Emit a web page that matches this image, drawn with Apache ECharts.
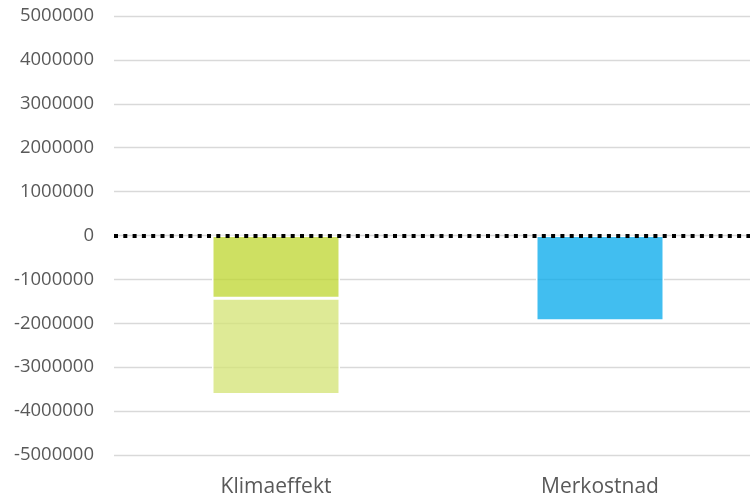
<!DOCTYPE html>
<html>
<head>
<meta charset="utf-8">
<script src="https://cdn.jsdelivr.net/npm/echarts@6/dist/echarts.min.js"></script>
<style>
  html, body { margin: 0; padding: 0; background: #fff; overflow: hidden; width: 750px; height: 498px; }
  /* the plot area runs a little past the right edge of the page */
  #chart { width: 762px; height: 498px; }
</style>
</head>
<body>
<div id="chart"></div>
<script>
// Categories along the horizontal axis
const categories = ['Klimaeffekt', 'Merkostnad'];

// Climate effect split into two stacked parts; extra cost as a single bar
const klimaDel1 = [-1430000, '-'];
const klimaDel2 = [-2190000, '-'];
const merkostnad = ['-', -1940000];

// Value axis range
const yMin = -5000000;
const yMax = 5000000;
const yStep = 1000000;

const textColor = '#595959';

const chart = echarts.init(document.getElementById('chart'), null, { renderer: 'canvas' });

chart.setOption({
  animation: false,
  backgroundColor: '#ffffff',
  grid: { left: 114, top: 16, right: 0, bottom: 43, containLabel: false },
  xAxis: {
    type: 'category',
    data: categories,
    axisLine: { show: false, onZero: false },
    axisTick: { show: false },
    axisLabel: { margin: 22, fontFamily: 'Open Sans', fontSize: 21, color: textColor },
    splitLine: { show: false }
  },
  yAxis: {
    type: 'value',
    min: yMin,
    max: yMax,
    interval: yStep,
    axisLine: { show: false },
    axisTick: { show: false },
    axisLabel: {
      margin: 20,
      fontFamily: 'Open Sans',
      fontSize: 18.5,
      color: textColor,
      formatter: function (v) { return String(v); }
    },
    splitLine: { show: true, lineStyle: { color: '#d9d9d9', width: 1.3 } }
  },
  series: [
    {
      name: 'Klimaeffekt del 1',
      type: 'bar',
      stack: 'sum',
      barWidth: 128,
      data: klimaDel1,
      itemStyle: { color: 'rgba(190,214,46,0.75)', borderColor: '#ffffff', borderWidth: 1.5 },
      markLine: {
        silent: true,
        symbol: 'none',
        label: { show: false },
        z: 10,
        lineStyle: { color: '#000000', width: 4, type: [4, 5.3], opacity: 1 },
        data: [{ yAxis: 0 }]
      }
    },
    {
      name: 'Klimaeffekt del 2',
      type: 'bar',
      stack: 'sum',
      barWidth: 128,
      data: klimaDel2,
      itemStyle: { color: 'rgba(211,227,115,0.75)', borderColor: '#ffffff', borderWidth: 1.5 }
    },
    {
      name: 'Merkostnad',
      type: 'bar',
      stack: 'sum',
      barWidth: 128,
      data: merkostnad,
      itemStyle: { color: 'rgba(2,168,235,0.75)', borderColor: '#ffffff', borderWidth: 1.5 }
    }
  ]
});
</script>
</body>
</html>
